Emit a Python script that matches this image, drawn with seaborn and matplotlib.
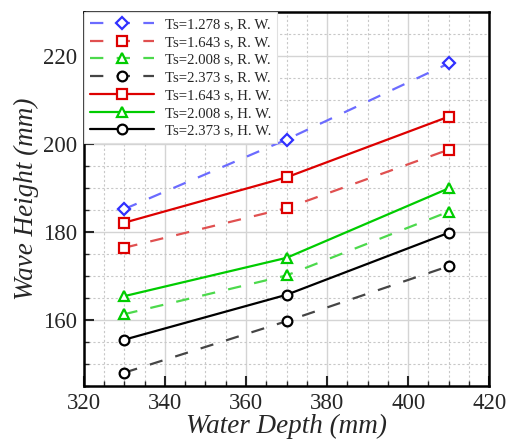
import numpy as np
import pandas as pd
import matplotlib
matplotlib.use("Agg")
import matplotlib.pyplot as plt
from matplotlib.ticker import MultipleLocator
import seaborn as sns

depth = [330, 370, 410]
rw_1278 = [185.2, 201.0, 218.3]
rw_1643 = [176.4, 185.4, 198.7]
rw_2008 = [161.3, 170.1, 184.6]
rw_2373 = [148.0, 159.7, 172.2]
hw_1643 = [182.1, 192.4, 206.2]
hw_2008 = [165.4, 174.1, 189.9]
hw_2373 = [155.5, 165.7, 179.8]

labels = ["Ts=1.278 s, R. W.", "Ts=1.643 s, R. W.", "Ts=2.008 s, R. W.",
          "Ts=2.373 s, R. W.", "Ts=1.643 s, H. W.", "Ts=2.008 s, H. W.",
          "Ts=2.373 s, H. W."]
values = [rw_1278, rw_1643, rw_2008, rw_2373, hw_1643, hw_2008, hw_2373]

styles = [
    dict(line="#6b6bff", mk="#3030ff", marker="D", ms=6, ls="dashed"),
    dict(line="#e05050", mk="#dd0000", marker="s", ms=6.5, ls="dashed"),
    dict(line="#4cd94c", mk="#00cc00", marker="^", ms=7.5, ls="dashed"),
    dict(line="#454545", mk="#000000", marker="o", ms=7, ls="dashed"),
    dict(line="#dd0000", mk="#dd0000", marker="s", ms=6.5, ls="solid"),
    dict(line="#00cc00", mk="#00cc00", marker="^", ms=7.5, ls="solid"),
    dict(line="#000000", mk="#000000", marker="o", ms=7, ls="solid"),
]

sns.set_style("ticks")
plt.rcParams["font.family"] = ["Liberation Serif", "DejaVu Serif"]

fig = plt.figure(figsize=(5.08, 4.43), dpi=100)
ax = fig.add_axes([0.165, 0.129, 0.798, 0.844])

for lab, vals, st in zip(labels, values, styles):
    df = pd.DataFrame({"depth": depth, "height": vals})
    sns.lineplot(data=df, x="depth", y="height", ax=ax, color=st["line"],
                 marker=st["marker"], markersize=st["ms"], markeredgewidth=1.6,
                 markerfacecolor="white", markeredgecolor=st["mk"],
                 linewidth=1.6, label=lab, zorder=3)
    line = ax.lines[-1]
    if st["ls"] == "dashed":
        line.set_dashes([6, 6])

ax.set_xlim(320, 420)
ax.set_ylim(145, 230)
ax.xaxis.set_major_locator(MultipleLocator(20))
ax.xaxis.set_minor_locator(MultipleLocator(5))
ax.yaxis.set_major_locator(MultipleLocator(20))
ax.yaxis.set_minor_locator(MultipleLocator(5))
ax.grid(which="major", color="#d4d4d4", linewidth=1.0, linestyle="-", zorder=0)
ax.grid(which="minor", color="#c8c8c8", linewidth=0.8, linestyle=(0, (2, 2)), zorder=0)
ax.set_axisbelow(True)

ax.tick_params(which="major", direction="in", length=7, width=1.5, labelsize=16.5,
               top=False, right=False, pad=5)
ax.tick_params(which="minor", direction="in", length=3.5, width=1.0, top=False, right=False)
for sp in ax.spines.values():
    sp.set_linewidth(1.8)
    sp.set_color("black")

ax.set_xlabel("Water Depth (mm)", fontsize=19.5, style="italic", labelpad=0)
ax.set_ylabel("Wave Height (mm)", fontsize=19.5, style="italic", labelpad=3)

leg = ax.legend(loc="upper left", fontsize=10.6, frameon=True, fancybox=False,
                borderaxespad=0.0, handlelength=4.4, handletextpad=0.7,
                labelspacing=0.3, borderpad=0.4)
leg.get_frame().set_edgecolor("#e0e0e0")
leg.get_frame().set_facecolor("white")
leg.get_frame().set_alpha(1.0)
leg.get_frame().set_linewidth(0.8)

fig.savefig("out.png", dpi=100)
